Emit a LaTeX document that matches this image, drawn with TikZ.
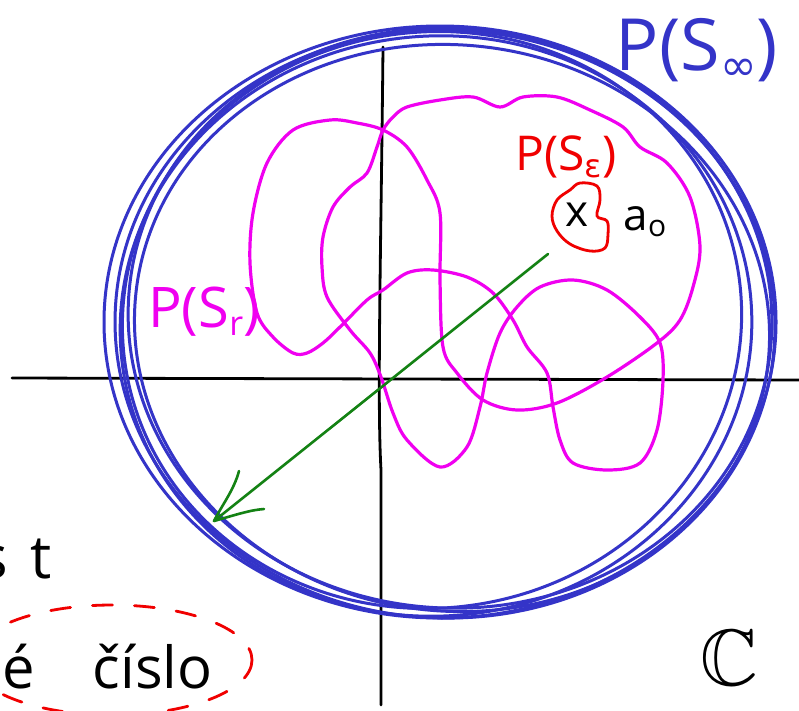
\documentclass[tikz,border=0pt]{standalone}
\usepackage{fontspec}
\usepackage{amssymb}
\setmainfont{Open Sans}
\newfontfamily\symfam{DejaVu Sans}
\definecolor{cblue}{RGB}{52,52,200}
\definecolor{cmag}{RGB}{240,0,240}
\definecolor{cred}{RGB}{240,0,0}
\definecolor{cgreen}{RGB}{20,130,20}
\newcommand{\subtxt}[2]{\raisebox{-0.14em}{\fontsize{#1}{#1}\selectfont #2}}
\begin{document}
\begin{tikzpicture}[x=1pt,y=-1pt,
  blue ring/.style={draw=cblue,line width=3pt},
  magcurve/.style={draw=cmag,line width=3.2pt,line join=round},
  axisline/.style={draw=black,line width=2.8pt,line cap=round},
  lbl/.style={inner sep=0pt,anchor=center}]
\useasboundingbox (0,0) rectangle (799,710);
\fill[white] (0,0) rectangle (799,710);
% axes
\coordinate (xl) at (12,378);
\coordinate (xr) at (799,380);
\coordinate (yt) at (383,47);
\coordinate (yb) at (381,705);
\draw[axisline] (xl) -- (xr);
\draw[axisline] (yt) .. controls (381,250) and (377,400) .. (381,470) -- (yb);
% blue rings
\foreach \cx/\cy/\rx/\ry/\r in {440/322/336/296/0, 450/318/322/290/-4, 436/326/316/290/5, 445/324/330/294/-2, 432/320/310/288/8, 452/328/318/283/-7}{
  \draw[blue ring,rotate around={\r:(\cx,\cy)}] (\cx,\cy) ellipse [x radius=\rx, y radius=\ry];
}
% magenta curve
\draw[magcurve] plot[smooth cycle,tension=0.55] coordinates {
(381,377) (393,413) (407,440) (440,467) (467,447) (480,407) (487,373)
(500,333) (517,307) (540,287) (573,280) (607,290) (640,317) (660,343)
(663,380) (657,430) (640,463) (607,470) (573,463) (560,440) (553,407)
(547,373) (527,347) (513,320) (493,293) (467,277) (433,270) (407,273)
(383,290) (367,300) (340,327) (323,343) (307,353) (293,353) (273,337)
(257,313) (250,263) (253,213) (267,163) (293,130) (330,120) (357,123)
(383,130) (407,147) (427,180) (440,213) (440,280) (443,347) (457,373)
(483,400) (517,410) (557,403) (607,377) (657,343) (680,320) (693,287)
(700,247) (690,197) (667,163) (640,147) (623,127) (590,110) (557,97)
(523,97) (500,107) (473,97) (440,100) (407,107) (393,117) (383,130)
(377,147) (367,173) (350,187) (333,207) (323,237) (322,267) (327,297)
(350,330) (370,353)};
% green arrow
\coordinate (gs) at (548,254);
\coordinate (gt) at (214,521);
\coordinate (gb1) at (239,471);
\coordinate (gb2) at (264,509);
\draw[cgreen,line width=2.6pt,line cap=round] (gs) -- (gt);
\draw[cgreen,line width=2.6pt,line cap=round,line join=round] (gb1) .. controls (234,490) and (222,505) .. (gt) .. controls (235,515) and (250,510) .. (gb2);
% red blob
\draw[cred,line width=2.8pt,line join=round] plot[smooth cycle,tension=0.6] coordinates {
(580,183) (597,186) (600,200) (597,216) (607,221) (608,234) (605,248)
(590,251) (570,244) (557,231) (552,216) (557,200) (570,190)};
% labels
\node[lbl,text=cblue,font=\fontsize{72}{72}\selectfont] (pinf) at (697,50) {P(S\subtxt{44}{\symfam ∞})};
\node[lbl,text=cred,font=\fontsize{48}{48}\selectfont] (peps) at (566,157) {P(S\subtxt{32}{\symfam ε})};
\node[lbl,text=cmag,font=\fontsize{56}{56}\selectfont] (pr) at (204,312) {P(S\subtxt{34}{r})};
\node[lbl,font=\fontsize{44}{44}\selectfont] (xa) at (577,215) {x};
\node[lbl,font=\fontsize{44}{44}\selectfont] (a0) at (645,222) {a\subtxt{30}{o}};
\node[lbl,font=\fontsize{80}{80}\selectfont] (cc) at (729,658) {$\mathbb{C}$};
\node[lbl,anchor=base east,font=\fontsize{60}{60}\selectfont] (st) at (52,578) {s\hspace{22pt}t};
\node[lbl,anchor=base west,font=\fontsize{58}{58}\selectfont] (cislo) at (2,688) {é\hspace{1.0em}číslo};
% red dashed ellipse
\coordinate (ec) at (112,660);
\draw[cred,line width=2.8pt,dash pattern=on 20pt off 22pt,line cap=round] (ec) ellipse [x radius=140, y radius=55];
\end{tikzpicture}
\end{document}
